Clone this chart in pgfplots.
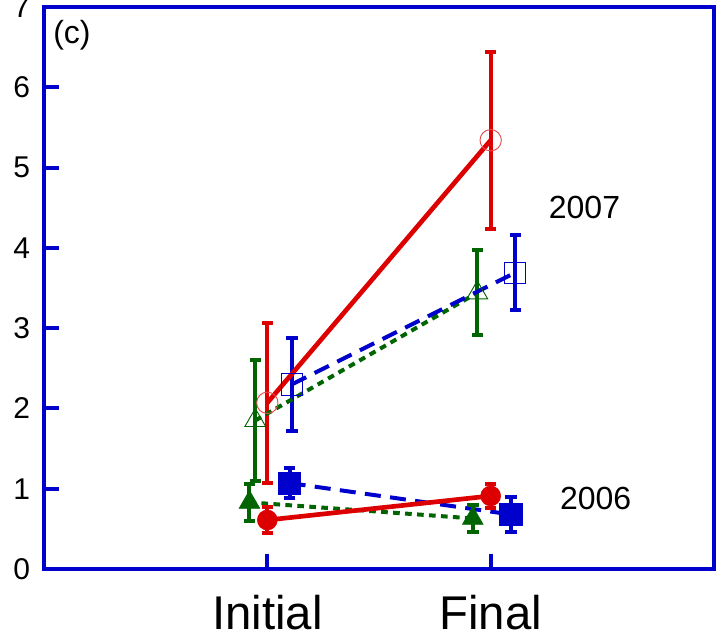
\documentclass[border=0pt]{standalone}
\usepackage{pgfplots}
\pgfplotsset{compat=1.18}
\usepackage{fontspec}
\setmainfont{Liberation Sans}
\definecolor{cred}{RGB}{221,0,0}
\definecolor{cgreen}{RGB}{0,100,0}
\definecolor{cblue}{RGB}{0,0,204}
\begin{document}
\begin{tikzpicture}
\begin{axis}[
  scale only axis, width=502.5pt, height=421.5pt,
  xmin=0, xmax=3, ymin=0, ymax=7,
  axis line style={cblue, line width=3pt},
  xtick={1,2}, xticklabels={Initial, Final},
  ytick={0,1,2,3,4,5,6,7},
  tick align=inside, tick pos=left,
  major tick length=11pt,
  tick style={cblue, line width=3pt},
  xticklabel style={font=\fontsize{35.5}{40}\selectfont, yshift=-16pt},
  yticklabel style={font=\fontsize{22.5}{26}\selectfont, xshift=-7pt},
  /pgf/number format/assume math mode=true,
  clip=false,
  error bars/y dir=both, error bars/y explicit,
  error bars/error bar style={solid, line width=3pt},
  error bars/error mark options={rotate=90, mark size=4.3pt, line width=3pt},
]
% ---------- 2006 lines ----------
\addplot[cgreen, line width=3pt, dash pattern=on 5pt off 4pt, no marks, forget plot] coordinates {(0.92,0.83) (1.92,0.63)};
\addplot[cblue, line width=3pt, dash pattern=on 12pt off 7pt, no marks, forget plot] coordinates {(1.10,1.07) (2.09,0.68)};
\addplot[cred, line width=3.5pt, no marks, forget plot] coordinates {(1.0,0.61) (2.0,0.91)};
% ---------- 2006 marks ----------
\addplot[cgreen, only marks, mark=triangle*, mark size=9pt, mark options={fill=cgreen}] coordinates {(0.92,0.83) +- (0,0.23) (1.92,0.63) +- (0,0.17)};
\addplot[cblue, only marks, mark=square*, mark size=8.3pt, mark options={fill=cblue}] coordinates {(1.10,1.07) +- (0,0.19) (2.09,0.68) +- (0,0.22)};
\addplot[cred, only marks, mark=*, mark size=7.5pt, mark options={fill=cred}] coordinates {(1.0,0.61) +- (0,0.16) (2.0,0.91) +- (0,0.15)};
% ---------- 2007 marks ----------
\addplot[cgreen, only marks, mark=triangle, mark size=9pt, mark options={line width=0.7pt}] coordinates {(0.946,1.85) +- (0,0.75) (1.94,3.44) +- (0,0.53)};
\addplot[cblue, only marks, mark=square, mark size=8pt, mark options={line width=0.7pt}] coordinates {(1.11,2.30) +- (0,0.58) (2.11,3.69) +- (0,0.47)};
\addplot[cred, only marks, mark=o, mark size=8pt, mark options={line width=0.7pt, cred!70}] coordinates {(1.0,2.07) +- (0,1.0) (2.0,5.34) +- (0,1.1)};
% ---------- 2007 lines ----------
\addplot[cgreen, line width=3pt, dash pattern=on 5pt off 4pt, no marks, forget plot] coordinates {(0.946,1.85) (1.94,3.44)};
\addplot[cblue, line width=3pt, dash pattern=on 12pt off 7pt, no marks, forget plot] coordinates {(1.11,2.30) (2.11,3.69)};
\addplot[cred, line width=3.5pt, no marks, forget plot] coordinates {(1.0,2.07) (2.0,5.34)};
% ---------- labels ----------
\node[font=\fontsize{24}{28}\selectfont] at (axis cs:2.42,4.50) {2007};
\node[font=\fontsize{24}{28}\selectfont] at (axis cs:2.47,0.88) {2006};
\node[font=\fontsize{24}{28}\selectfont] at (axis cs:0.125,6.65) {(c)};
\end{axis}
\pgfresetboundingbox
\path[use as bounding box] ([xshift=-33pt,yshift=-51.75pt]current axis.south west) rectangle ([xshift=2.25pt,yshift=5.25pt]current axis.north east);
\end{tikzpicture}
\end{document}
